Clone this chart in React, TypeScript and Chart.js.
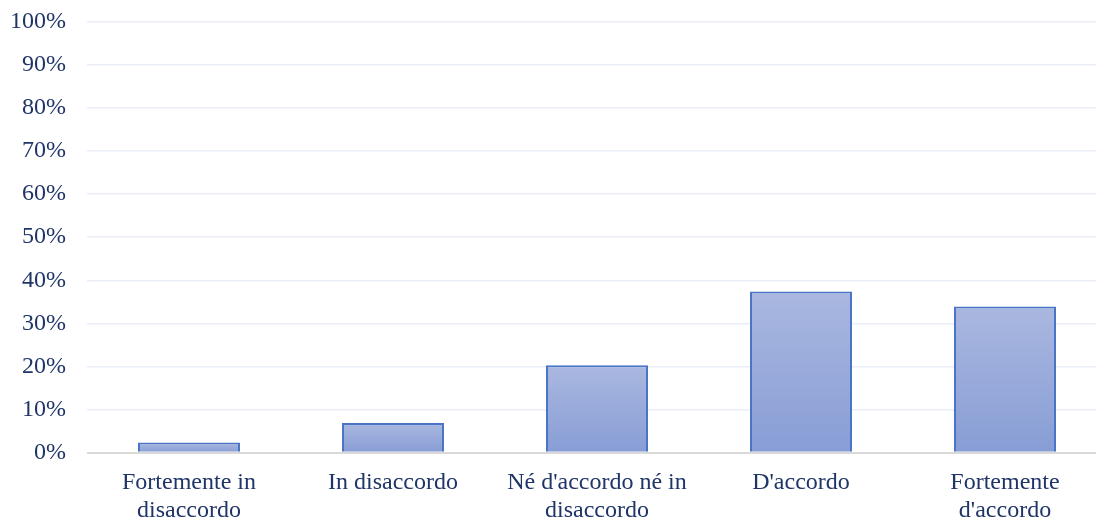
import React, { useEffect, useRef } from "react";
import { Chart, registerables } from "chart.js";

Chart.register(...registerables);

const categories: (string | string[])[] = [
  ["Fortemente in", "disaccordo"],
  "In disaccordo",
  ["Né d'accordo né in", "disaccordo"],
  "D'accordo",
  ["Fortemente", "d'accordo"],
];
const shares: number[] = [2.4, 6.9, 20.3, 37.4, 33.9];
const yTicks: number[] = [0, 10, 20, 30, 40, 50, 60, 70, 80, 90, 100];

const TEXT = "#1F3567";
const FONT = "'Liberation Serif', 'Times New Roman', serif";
const W = 1107;
const H = 547;
const SHIFT_UP = 14;

export default function App() {
  const ref = useRef<HTMLCanvasElement | null>(null);

  useEffect(() => {
    if (!ref.current) return;
    const chart = new Chart(ref.current, {
      type: "bar",
      data: {
        labels: categories,
        datasets: [
          {
            data: shares,
            backgroundColor: (ctx: any) => {
              const c = ctx.chart;
              const y = c.scales?.y;
              const fallback = "#98A9DA";
              if (!y || typeof ctx.raw !== "number") return fallback;
              const top = y.getPixelForValue(ctx.raw);
              const bottom = y.getPixelForValue(0);
              if (!Number.isFinite(top) || !Number.isFinite(bottom) || top === bottom) return fallback;
              const g = c.ctx.createLinearGradient(0, top, 0, bottom);
              g.addColorStop(0, "#AAB8E0");
              g.addColorStop(1, "#879DD5");
              return g;
            },
            borderColor: "#4A74C6",
            borderWidth: 2,
            borderSkipped: "bottom",
            barPercentage: 0.5,
            categoryPercentage: 1,
          },
        ],
      },
      options: {
        responsive: false,
        animation: false,
        layout: { padding: { top: -6, left: -11, right: 0, bottom: 0 } },
        plugins: { legend: { display: false }, tooltip: { enabled: false } },
        scales: {
          x: {
            grid: { display: false },
            border: { display: false },
            ticks: {
              color: TEXT,
              font: { family: FONT, size: 24, lineHeight: 1.17 },
              maxRotation: 0,
              autoSkip: false,
              padding: 8,
            },
          },
          y: {
            min: 0,
            max: 100,
            afterBuildTicks: (axis: any) => {
              axis.ticks = yTicks.map((v) => ({ value: v }));
            },
            grid: {
              color: (c: any) => (c.tick && c.tick.value === 0 ? "#D9D9D9" : "#E9EEF8"),
              lineWidth: (c: any) => (c.tick && c.tick.value === 0 ? 2 : 1.5),
              drawTicks: false,
            },
            border: { display: false },
            ticks: {
              color: TEXT,
              font: { family: FONT, size: 24 },
              padding: 21,
              callback: (v: any) => `${v}%`,
            },
          },
        },
      },
    });
    return () => chart.destroy();
  }, []);

  return (
    <div
      style={{
        position: "fixed",
        left: 0,
        top: -SHIFT_UP,
        width: W,
        height: H,
        background: "#fff",
      }}
    >
      <canvas ref={ref} width={W} height={H} />
    </div>
  );
}
